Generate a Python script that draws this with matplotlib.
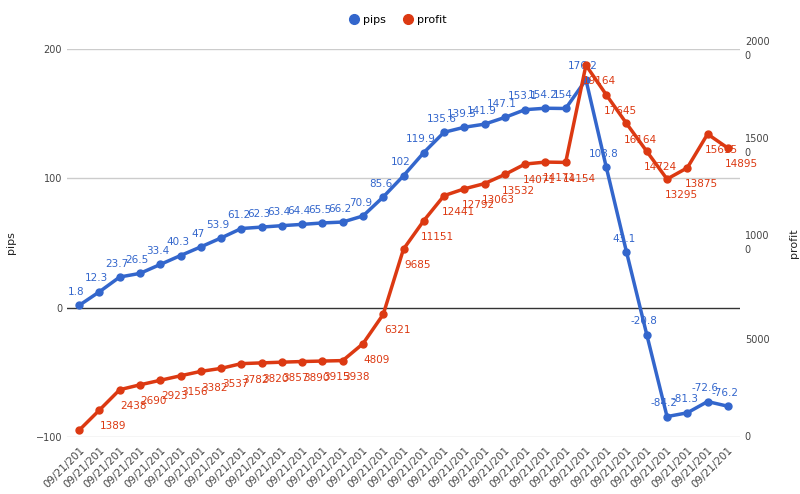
import matplotlib
matplotlib.use("Agg")
import matplotlib.pyplot as plt

pips = [1.8,12.3,23.7,26.5,33.4,40.3,47,53.9,61.2,62.3,63.4,64.4,65.5,66.2,70.9,85.6,102,119.9,135.6,139.5,141.9,147.1,153.1,154.2,154,176.2,108.8,43.1,-20.8,-84.2,-81.3,-72.6,-76.2]
profit = [350,1389,2438,2690,2923,3156,3382,3537,3782,3820,3857,3890,3915,3938,4809,6321,9685,11151,12441,12792,13063,13532,14071,14171,14154,19164,17645,16164,14724,13295,13875,15615,14895]
profit_labels = [None] + [str(v) for v in profit[1:]]
xlabels = ["09/21/201"] * len(pips)

blue = "#3366cc"; red = "#dc3912"
fig = plt.figure(figsize=(8, 4.94), dpi=100)
ax = fig.add_axes([67/800, 57/494, 673/800, 388/494])
ax2 = ax.twinx()
x = list(range(len(pips)))

ax.set_ylim(-100, 200)
ax2.set_ylim(0, 20000)
ax.set_xlim(-0.6, len(pips) - 0.4)
for y in [-100, 100, 200]:
    ax.axhline(y, color="#cccccc", lw=1, zorder=0)
ax.axhline(0, color="#333333", lw=1, zorder=0)

ax.plot(x, pips, color=blue, lw=2.5, marker="o", ms=5, zorder=3, label="pips")
ax2.plot(x, profit, color=red, lw=2.5, marker="o", ms=5, zorder=3, label="profit")
for xi, v in zip(x, pips):
    ax.annotate(f"{v:g}", (xi, v), xytext=(-2, 6), textcoords="offset points",
                ha="center", va="bottom", color=blue, fontsize=7.5)
for xi, v, l in zip(x, profit, profit_labels):
    if l:
        ax2.annotate(l, (xi, v), xytext=(10, -8), textcoords="offset points",
                     ha="center", va="top", color=red, fontsize=7.5)

for a in (ax, ax2):
    for s in a.spines.values():
        s.set_visible(False)
    a.tick_params(length=0, colors="#444444", labelsize=7)
ax.set_yticks([-100, 0, 100, 200])
ax2.set_yticks([0, 5000, 10000, 15000, 20000])
ax2.set_yticklabels(["0", "5000", "1000\n0", "1500\n0", "2000\n0"], va="center", linespacing=1.6)
ax.set_xticks(x)
ax.set_xticklabels(xlabels, rotation=45, ha="right", rotation_mode="anchor", fontsize=7.5, color="#444444")
ax.tick_params(axis="x", pad=6)
ax.set_ylabel("pips", fontsize=8, color="#222222", labelpad=14)
ax2.set_ylabel("profit", fontsize=8, color="#222222", labelpad=14)

h1, l1 = ax.get_legend_handles_labels()
h2, l2 = ax2.get_legend_handles_labels()
fig.legend(h1 + h2, l1 + l2, loc="upper center", bbox_to_anchor=(0.5, 0.99), ncol=2,
           frameon=False, fontsize=8, handlelength=0, markerscale=1.4, columnspacing=2)
fig.savefig("out.png", dpi=100, facecolor="white")
